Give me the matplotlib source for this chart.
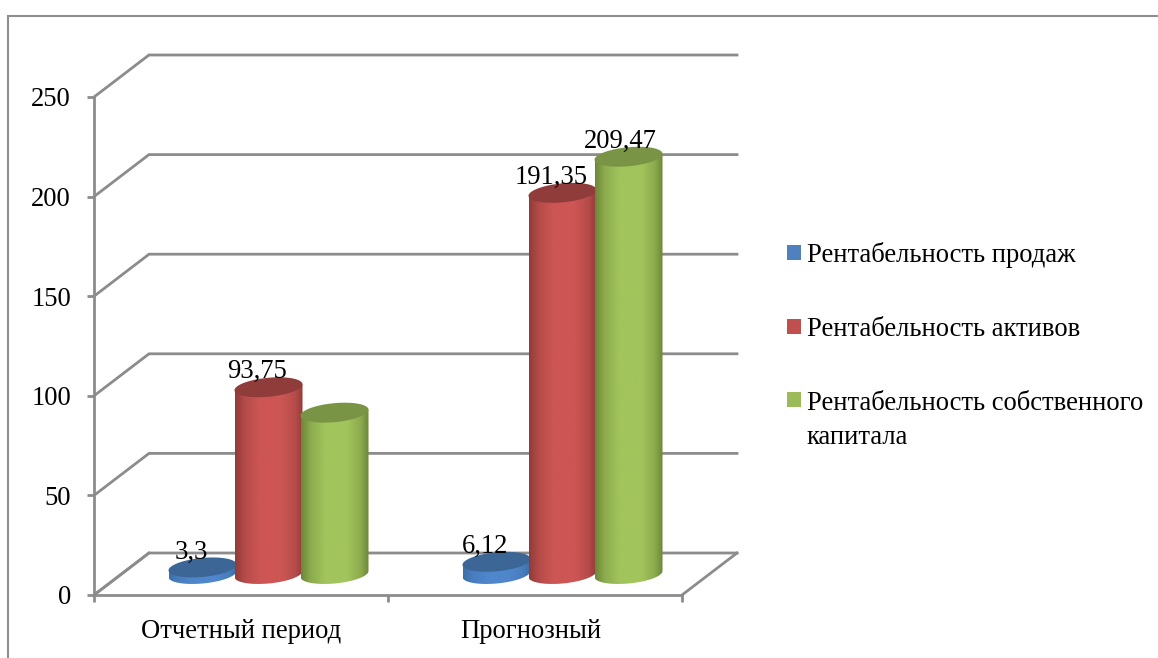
import numpy as np
import matplotlib
matplotlib.use("Agg")
import matplotlib.pyplot as plt
from matplotlib.colors import LinearSegmentedColormap, to_rgb
from matplotlib.patches import Patch, PathPatch, Polygon, Rectangle
from matplotlib.path import Path

plt.rcParams['font.family'] = ['Liberation Serif', 'DejaVu Serif']

categories = ["Отчетный период", "Прогнозный"]
series_names = ["Рентабельность продаж", "Рентабельность активов",
                "Рентабельность собственного\nкапитала"]
sales = [3.3, 6.12]
assets = [93.75, 191.35]
equity = [81.0, 209.47]
sales_labels = ["3,3", "6,12"]
assets_labels = ["93,75", "191,35"]
equity_labels = [None, "209,47"]
y_ticks = [0, 50, 100, 150, 200, 250]

W, H = 1158, 658
GRID = "#8c8c8c"
TEXT = "#000000"
FS = 19.2
LW = 2.0

fig = plt.figure(figsize=(W / 100, H / 100), dpi=100, facecolor="white")
ax = fig.add_axes([94 / W, 1 - 595 / H, 588 / W, 498 / H])
ax.set_xlim(0, 2)
ax.set_ylim(0, 250)
ax.set_facecolor("none")

PX = 294.0          # pixels per category
PY = 498 / 250      # pixels per value unit
DX = 27.5 / PX      # half depth, x
DY = 21.0 / PY      # half depth, y
BAR_W = 68.0 / PX
GAP = 66.0 / PX

# frame
for s in ("top", "right"):
    ax.spines[s].set_visible(False)
for s in ("left", "bottom"):
    ax.spines[s].set_color(GRID)
    ax.spines[s].set_linewidth(LW)
ax.set_yticks(y_ticks)
ax.set_xticks([0, 1, 2])
ax.set_xticklabels([])
ax.set_xticks([0.5, 1.487], minor=True)
ax.set_xticklabels(categories, minor=True, fontsize=FS, color=TEXT)
ax.tick_params(axis="x", which="minor", length=0, pad=17.5)
ax.tick_params(axis="x", which="major", length=5, width=LW, color=GRID)
ax.tick_params(axis="y", length=5, width=LW, color=GRID, labelsize=FS, labelcolor=TEXT, pad=11.5)

# walls
ax.plot([0, 2 * DX], [0, 2 * DY], color=GRID, lw=LW, clip_on=False, zorder=1)
ax.plot([2, 2 + 2 * DX], [0, 2 * DY], color=GRID, lw=LW, clip_on=False, zorder=1)
for v in y_ticks:
    ax.plot([0, 2 * DX, 2 + 2 * DX], [v, v + 2 * DY, v + 2 * DY], color=GRID, lw=LW,
            clip_on=False, zorder=1, solid_joinstyle="miter")


def blend(c1, c2, f):
    return tuple((1 - f) * a + f * b for a, b in zip(to_rgb(c1), to_rgb(c2)))


def cylinder(xc, value, edge, mid, cap, z):
    a = BAR_W / 2
    b = 9.5 / PY
    s = 3.0 / PY
    base = DY
    top = DY + value
    xc = xc + DX
    t = np.linspace(np.pi, 2 * np.pi, 60)
    ex = xc + a * np.cos(t)
    tilt = s * np.cos(t)
    lower = base + b * np.sin(t) + tilt
    verts = list(zip(ex, lower)) + [(xc + a, top + s), (xc - a, top - s), (xc - a, base - s)]
    codes = [Path.MOVETO] + [Path.LINETO] * (len(verts) - 2) + [Path.CLOSEPOLY]
    clip = PathPatch(Path(verts, codes), transform=ax.transData, fc="none", ec="none")
    ax.add_patch(clip)
    clip.set_clip_on(False)
    cmap = LinearSegmentedColormap.from_list(
        "c", [(0, edge), (.14, blend(edge, mid, .6)), (.36, mid), (.68, mid),
              (.88, blend(edge, mid, .6)), (1, edge)], N=256)
    grad = np.linspace(0, 1, 256)[None, :]
    ymin = base - b - abs(s) - 2
    ymax = top + abs(s) + 2
    im = ax.imshow(grad, extent=(xc - a, xc + a, ymin, ymax), cmap=cmap, aspect="auto",
                   vmin=0, vmax=1, zorder=z, interpolation="bilinear")
    im.set_clip_path(clip)
    t2 = np.linspace(0, 2 * np.pi, 120)
    ax.add_patch(Polygon(np.column_stack([xc + a * np.cos(t2),
                                          top + b * np.sin(t2) + s * np.cos(t2)]),
                         closed=True, fc=cap, ec="none", zorder=z + 0.1, clip_on=False))


styles = [("#3d6ea8", "#4f86cc", "#3b6695"),
          ("#8f3b38", "#cd5654", "#8f3c3a"),
          ("#6c8639", "#a2c45c", "#7a9445")]
all_values = [sales, assets, equity]
all_labels = [sales_labels, assets_labels, equity_labels]
label_dx = [-11 / PX, -11 / PX, -8 / PX]
for k, (vals, st) in enumerate(zip(all_values, styles)):
    for i, v in enumerate(vals):
        x = i + 0.5 + (k - 1) * GAP
        cylinder(x, v, st[0], st[1], st[2], 3 + k)
        lab = all_labels[k][i]
        if lab:
            ax.text(x + DX + label_dx[k], v + DY + 9 / PY, lab, ha="center", va="baseline",
                    fontsize=FS, color=TEXT, zorder=10)

ax.set_xlim(0, 2)
ax.set_ylim(0, 250)

# legend
handles = [Patch(fc=c, ec="none") for c in ("#4f81bd", "#c0504d", "#9bbb59")]
leg = ax.legend(handles, series_names, loc="upper left", bbox_to_anchor=(787 / W, 1 - 242 / H),
                bbox_transform=fig.transFigure, frameon=False, fontsize=FS, labelspacing=1.84,
                handlelength=0.52, handleheight=0.52, handletextpad=0.22, borderpad=0,
                borderaxespad=0, labelcolor=TEXT)
leg.get_texts()[2].set_linespacing(1.45)
third = leg.legend_handles[2]
third.set_y(third.get_y() + 15)

# outer chart frame
fig.add_artist(Rectangle((8 / W, -0.01), 1.2, 1 - 16 / H + 0.01, transform=fig.transFigure,
                         fc="none", ec="#8f8f8f", lw=1.5))

fig.savefig("out.png", dpi=100, facecolor="white")
